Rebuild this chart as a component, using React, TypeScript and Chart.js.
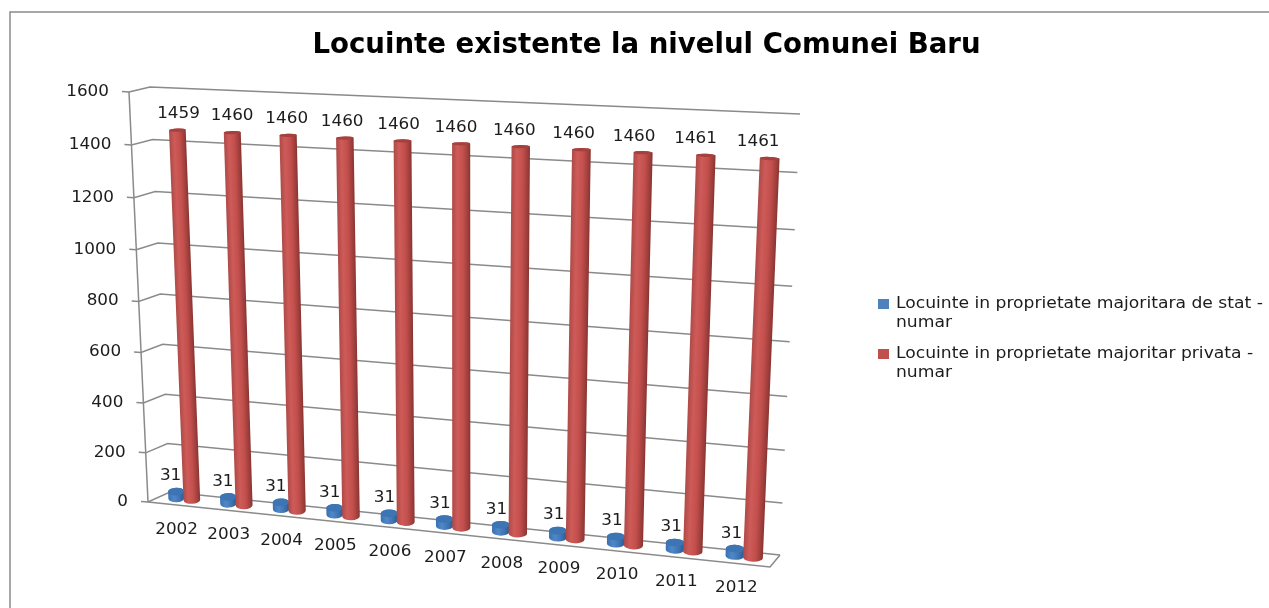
import React, { useEffect, useRef } from "react";
import { Chart, registerables } from "chart.js";

Chart.register(...registerables);

const categories = ["2002", "2003", "2004", "2005", "2006", "2007", "2008", "2009", "2010", "2011", "2012"];
const stateHomes = [31, 31, 31, 31, 31, 31, 31, 31, 31, 31, 31];
const privateHomes = [1459, 1460, 1460, 1460, 1460, 1460, 1460, 1460, 1460, 1461, 1461];
const seriesNames = ["Locuinte in proprietate majoritara de stat - numar", "Locuinte in proprietate majoritar privata - numar"];
const legendLines = [
  ["Locuinte in proprietate majoritara de stat -", "numar"],
  ["Locuinte in proprietate majoritar privata -", "numar"],
];
const titleText = "Locuinte existente la nivelul Comunei Baru";

type P = [number, number];

// unit square (u right, v up) -> quadrilateral [bottom-left, bottom-right, top-right, top-left]
// k0 / k1: vertical foreshortening of the 3D view at the left / right side
function homography(q: P[], k0 = 0.1, k1 = 0.1) {
  const [[x0, y0], [x1, y1], [x2, y2], [x3, y3]] = q;
  const dx1 = x1 - x2, dx2 = x3 - x2, sx = x0 - x1 + x2 - x3;
  const dy1 = y1 - y2, dy2 = y3 - y2, sy = y0 - y1 + y2 - y3;
  const den = dx1 * dy2 - dx2 * dy1;
  const g = (sx * dy2 - dx2 * sy) / den;
  const h = (dx1 * sy - sx * dy1) / den;
  const a = x1 - x0 + g * x1, b = x3 - x0 + h * x3;
  const d = y1 - y0 + g * y1, e = y3 - y0 + h * y3;
  return (u: number, v0: number): P => {
    const k = k0 + (k1 - k0) * u;
    const v = v0 - k * v0 * (1 - v0);
    const w = g * u + h * v + 1;
    return [(a * u + b * v + x0) / w, (d * u + e * v + y0) / w];
  };
}

const backWall = homography([[170, 492], [780, 555], [800, 114], [150, 87]], 0.1, 0);
const sideWall = homography([[148, 502], [170, 492], [150, 87], [129, 92]]);
const barPlane = homography([[158.3, 496.5], [774.3, 560], [794.3, 115], [140.3, 87]]);

const GRID = "#8a8a8a";
const TEXT = "#1c1c1c";
const FONT = '"DejaVu Sans"';

function stretchedText(ctx: CanvasRenderingContext2D, s: string, x: number, y: number, font: string, sx: number, align: CanvasTextAlign) {
  ctx.save();
  ctx.font = font;
  ctx.fillStyle = TEXT;
  ctx.textAlign = align;
  ctx.textBaseline = "middle";
  ctx.translate(x, y);
  ctx.scale(sx, 1);
  ctx.fillText(s, 0, 0);
  ctx.restore();
}

function line(ctx: CanvasRenderingContext2D, pts: P[]) {
  ctx.beginPath();
  pts.forEach((p, i) => (i ? ctx.lineTo(p[0], p[1]) : ctx.moveTo(p[0], p[1])));
  ctx.stroke();
}

function cylinder(ctx: CanvasRenderingContext2D, T: P, B: P, rx: number, ryT: number, ryB: number, stops: [number, string][], cap: string) {
  const len = Math.hypot(T[0] - B[0], T[1] - B[1]) || 1;
  const ax = (T[0] - B[0]) / len, ay = (T[1] - B[1]) / len;
  const nx = -ay, ny = ax;
  const rot = Math.atan2(ny, nx);
  const grad = ctx.createLinearGradient(B[0] - nx * rx, B[1] - ny * rx, B[0] + nx * rx, B[1] + ny * rx);
  stops.forEach(([o, c]) => grad.addColorStop(o, c));
  ctx.beginPath();
  ctx.ellipse(B[0], B[1], rx, ryB, rot, 0, Math.PI, false);
  ctx.ellipse(T[0], T[1], rx, ryT, rot, Math.PI, Math.PI * 2, false);
  ctx.closePath();
  ctx.fillStyle = grad;
  ctx.fill();
  ctx.beginPath();
  ctx.ellipse(T[0], T[1], rx, ryT, rot, 0, Math.PI * 2);
  ctx.fillStyle = cap;
  ctx.fill();
}

const redStops: [number, string][] = [[0, "#ad4a47"], [0.3, "#cf5b59"], [0.6, "#c4504e"], [0.9, "#9a3c39"], [1, "#873330"]];
const blueStops: [number, string][] = [[0, "#3a70b0"], [0.35, "#4f88c8"], [0.7, "#3f74b2"], [1, "#2a5a92"]];

const scene = {
  id: "scene",
  beforeDraw(chart: any) {
    const ctx: CanvasRenderingContext2D = chart.ctx;
    ctx.save();
    ctx.fillStyle = "#ffffff";
    ctx.fillRect(0, 0, chart.width, chart.height);
    ctx.strokeStyle = "#8a8a8a";
    ctx.lineWidth = 1.5;
    line(ctx, [[10, 608], [10, 12], [1269, 12]]);
    ctx.restore();
  },
  beforeDatasetsDraw(chart: any) {
    const ctx: CanvasRenderingContext2D = chart.ctx;
    const { x, y } = chart.scales;
    const area = chart.chartArea;
    ctx.save();
    // walls and floor
    ctx.lineWidth = 1.5;
    ctx.strokeStyle = GRID;
    y.ticks.forEach((t: any) => {
      const v = (area.bottom - y.getPixelForValue(t.value)) / area.height;
      const front = sideWall(0, v);
      line(ctx, [[front[0] - 7, front[1] - 0.5], front, sideWall(1, v), backWall(1, v)]);
      stretchedText(ctx, String(t.value), front[0] - 20, front[1], `15px ${FONT}`, 1.12, "right");
    });
    line(ctx, [sideWall(0, 1), sideWall(0, 0)]);
    line(ctx, [sideWall(0, 0), [770, 567], backWall(1, 0)]);
    // category labels
    categories.forEach((c, i) => {
      const px = x.getPixelForValue(i);
      const p = barPlane((px - area.left) / area.width, 0);
      stretchedText(ctx, x.getLabelForValue(i), p[0] - 7.5, p[1] + 31, `15px ${FONT}`, 1.12, "center");
    });
    // legend
    legendLines.forEach((lines, i) => {
      const top = 299 + i * 50;
      ctx.fillStyle = chart.data.datasets[i].backgroundColor;
      ctx.fillRect(878, top, 11, 10);
      lines.forEach((s, k) => stretchedText(ctx, s, 896, top + 5 + k * 19, `15.5px ${FONT}`, 1.107, "left"));
    });
    ctx.restore();
  },
  beforeDatasetDraw() {
    return false;
  },
  afterDatasetsDraw(chart: any) {
    const ctx: CanvasRenderingContext2D = chart.ctx;
    const area = chart.chartArea;
    const m0 = chart.getDatasetMeta(0).data;
    const m1 = chart.getDatasetMeta(1).data;
    const project = (el: any) => {
      const u = (el.x - area.left) / area.width;
      const v = (area.bottom - el.y) / area.height;
      return { u, v, T: barPlane(u, v), B: barPlane(u, 0) };
    };
    ctx.save();
    categories.forEach((_, i) => {
      [m0[i], m1[i]].forEach((el: any, ds) => {
        const { u, v, T, B } = project(el);
        const a = barPlane(u - el.width / area.width / 2, v);
        const b = barPlane(u + el.width / area.width / 2, v);
        const rx = (Math.hypot(a[0] - b[0], a[1] - b[1]) / 2) * 1.02;
        const ryB = 3.9, ryT = 3.9 - 2.5 * v;
        if (ds === 0) cylinder(ctx, T, B, rx, ryT, ryB, blueStops, "#3d74b3");
        else cylinder(ctx, T, B, rx, ryT, ryB, redStops, "#a5403d");
      });
    });
    categories.forEach((_, i) => {
      const blue = project(m0[i]);
      const red = project(m1[i]);
      stretchedText(ctx, String(stateHomes[i]), blue.T[0] - 5.5 + 2 * blue.u, blue.T[1] - 15, `15px ${FONT}`, 1.12, "center");
      stretchedText(ctx, String(privateHomes[i]), red.T[0] + 2 - 14 * red.u, red.T[1] - 16, `15px ${FONT}`, 1.12, "center");
    });
    ctx.restore();
  },
};

export default function App() {
  const ref = useRef<HTMLCanvasElement>(null);
  useEffect(() => {
    document.body.style.margin = "0";
    const chart = new Chart(ref.current as HTMLCanvasElement, {
      type: "bar",
      data: {
        labels: categories,
        datasets: [
          { label: seriesNames[0], data: stateHomes, backgroundColor: "#4f81bd" },
          { label: seriesNames[1], data: privateHomes, backgroundColor: "#c0504d" },
        ],
      },
      options: {
        animation: false,
        responsive: false,
        devicePixelRatio: 1,
        layout: { padding: { left: 24, right: 0, top: 29, bottom: 0 } },
        datasets: { bar: { barPercentage: 1, categoryPercentage: 0.6 } },
        plugins: {
          legend: { display: false },
          tooltip: { enabled: false },
          title: {
            display: true,
            text: titleText,
            color: "#000000",
            font: { family: FONT, size: 27.6, weight: "bold" },
            padding: { top: 0, bottom: 10 },
          },
        },
        scales: {
          x: { display: false },
          y: { display: false, min: 0, max: 1600, ticks: { stepSize: 200 } },
        },
      },
      plugins: [scene],
    } as any);
    return () => chart.destroy();
  }, []);
  return <canvas ref={ref} width={1269} height={608} style={{ display: "block", width: 1269, height: 608 }} />;
}
